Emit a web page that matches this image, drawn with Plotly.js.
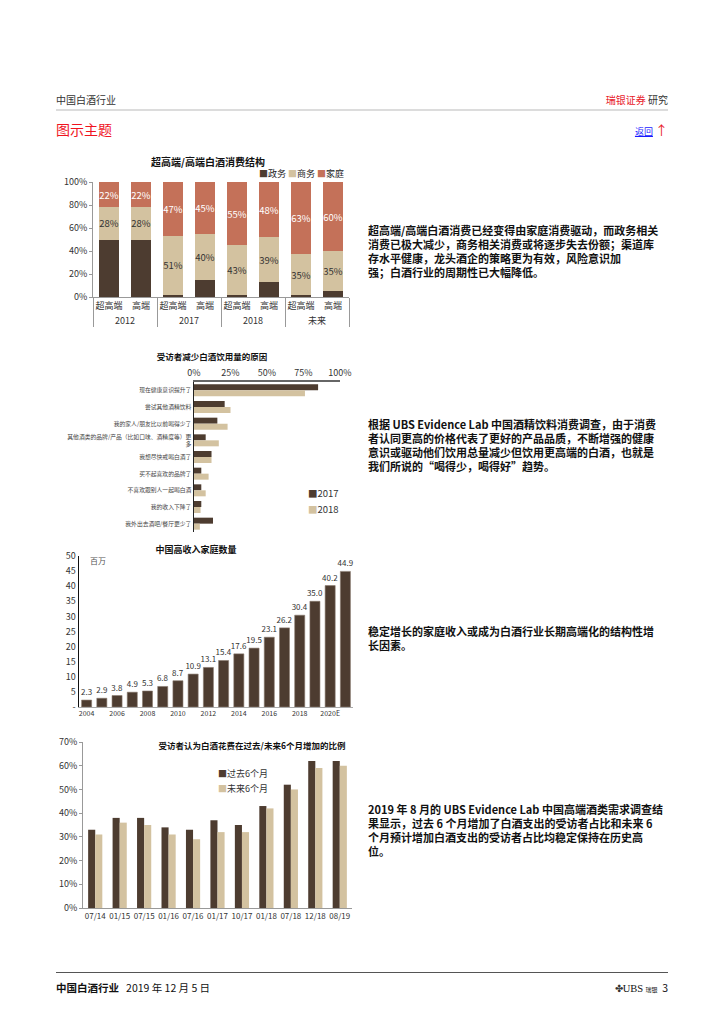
<!DOCTYPE html>
<html><head><meta charset="utf-8">
<script src="https://cdn.plot.ly/plotly-3.0.1.min.js"></script>
<style>
body{margin:0;width:724px;height:1024px;position:relative;background:#fff;font-family:"Noto Sans CJK SC","Noto Sans",sans-serif;overflow:hidden}
.abs{position:absolute;white-space:nowrap}
.chart{position:absolute}
.para{position:absolute;left:368px;font-size:11px;line-height:14px;font-weight:bold;color:#111;white-space:nowrap}
</style></head><body>

<div class="abs" style="left:56px;top:92px;font-size:10px;color:#333">中国白酒行业</div>
<div class="abs" style="right:56px;top:92px;font-size:10px;color:#333"><span style="color:#e8202a">瑞银证券</span> 研究</div>
<div class="abs" style="left:56px;top:109px;width:612px;height:2px;background:#dcdcdc"></div>
<div class="abs" style="left:56px;top:119px;font-size:14px;color:#f0141e">图示主题</div>
<div class="abs" style="right:56px;top:120px;font-size:9px"><span style="color:#1a1aff;text-decoration:underline">返回</span> <span style="color:#e8202a;font-size:13px">↑</span></div>

<div id="c1" class="chart" style="left:50px;top:150px;width:310px;height:195px"></div>
<div id="c2" class="chart" style="left:50px;top:345px;width:310px;height:195px"></div>
<div id="c3" class="chart" style="left:50px;top:540px;width:310px;height:195px"></div>
<div id="c4" class="chart" style="left:50px;top:735px;width:310px;height:200px"></div>

<div class="para" style="top:223px">超高端/高端白酒消费已经变得由家庭消费驱动，而政务相关<br>消费已极大减少，商务相关消费或将逐步失去份额；渠道库<br>存水平健康，龙头酒企的策略更为有效，风险意识加<br>强；白酒行业的周期性已大幅降低。</div>
<div class="para" style="top:417px">根据 UBS Evidence Lab 中国酒精饮料消费调查，由于消费<br>者认同更高的价格代表了更好的产品品质，不断增强的健康<br>意识或驱动他们饮用总量减少但饮用更高端的白酒，也就是<br>我们所说的“喝得少，喝得好”趋势。</div>
<div class="para" style="top:624px">稳定增长的家庭收入或成为白酒行业长期高端化的结构性增<br>长因素。</div>
<div class="para" style="top:802px">2019 年 8 月的 UBS Evidence Lab 中国高端酒类需求调查结<br>果显示，过去 6 个月增加了白酒支出的受访者占比和未来 6<br>个月预计增加白酒支出的受访者占比均稳定保持在历史高<br>位。</div>

<div class="abs" style="left:56px;top:972px;width:612px;height:1px;background:#555"></div>
<div class="abs" style="left:56px;top:980px;font-size:10.5px;color:#111"><b>中国白酒行业</b>&nbsp;&nbsp; 2019 年 12 月 5 日</div>
<div class="abs" style="right:56px;top:980px;font-size:10.5px;color:#111"><span style="font-size:10px;color:#333">✤</span><span style="font-family:'Liberation Serif',serif">UBS</span> <span style="font-size:6px">瑞银</span>&nbsp; 3</div>

<script>
// ---------- data ----------
const c1Groups = ['2012','2012','2017','2017','2018','2018','未来','未来'];
const c1Subs = ['超高端','高端','超高端','高端','超高端','高端','超高端','高端'];
const c1Gov = [50,50,2,15,2,13,2,5];
const c1Biz = [28,28,51,40,43,39,35,35];
const c1Home = [22,22,47,45,55,48,63,60];
const c1Names = ['政务','商务','家庭'];

const c2Reasons = ['现在健康意识提升了','尝试其他酒精饮料','我的家人/朋友比以前喝得少了','其他酒类的品牌/产品（比如口味、酒精度等）更<br>多','我想尽快戒喝白酒了','买不起喜欢的品牌了','不喜欢跟别人一起喝白酒','我的收入下降了','我外出去酒吧/餐厅更少了'];
const c2Y2017 = [85,21,16,8,12,5,5,5,13];
const c2Y2018 = [76,25,23,17,12,10,8,4.5,4];
const c2Names = ['2017','2018'];
const c2XTicks = [0,25,50,75,100];
const c2XTickText = ['0%','25%','50%','75%','100%'];

const c3Years = ['2004','2005','2006','2007','2008','2009','2010','2011','2012','2013','2014','2015','2016','2017','2018','2019','2020E','2021E'];
const c3Values = [2.3,2.9,3.8,4.9,5.3,6.8,8.7,10.9,13.1,15.4,17.6,19.5,23.1,26.2,30.4,35.0,40.2,44.9];
const c3TickLabels = ['2004','2006','2008','2010','2012','2014','2016','2018','2020E'];
const c3YTicks = [0,5,10,15,20,25,30,35,40,45,50];
const c3YTickText = ['-','5','10','15','20','25','30','35','40','45','50'];

const c4Dates = ['07/14','01/15','07/15','01/16','07/16','01/17','10/17','01/18','07/18','12/18','08/19'];
const c4Past = [33,38,38,34,33,37,35,43,52,62,62];
const c4Next = [31,36,35,31,29,32,32,42,50,59,60];
const c4Names = ['过去6个月','未来6个月'];

// ---------- style ----------
const F = 'Noto Sans CJK SC, Noto Sans, sans-serif';
const DARK = '#4d3c30', TAN = '#d3c2a0', TERRA = '#c47159';
const cfg = {staticPlot:true, displayModeBar:false};

function box(rect, plot){
  return {l:plot.x0-rect.left, r:rect.left+rect.w-plot.x1, t:plot.y0-rect.top, b:rect.top+rect.h-plot.y1, pad:0};
}
function ann(text, px, py, rect, plot, o){
  return Object.assign({xref:'paper', yref:'paper', showarrow:false,
    x:(px-plot.x0)/(plot.x1-plot.x0), y:1-(py-plot.y0)/(plot.y1-plot.y0),
    text:text, font:{family:F, size:9, color:'#222'}, xanchor:'left', yanchor:'middle'}, o||{});
}
function title(text, px, py, rect, size){
  return {text:text, font:{family:F, size:size, color:'#111'}, xref:'container', yref:'container',
    x:(px-rect.left)/rect.w, y:1-(py-rect.top)/rect.h, xanchor:'center', yanchor:'middle'};
}
function sq(c){ return '<span style="color:'+c+'">■</span>'; }
function pct(arr){ return arr.map(v => v + '%'); }

// ---------- chart 1 ----------
(function(){
  const rect={left:50, top:150, w:310, h:195};
  const plot={x0:93, x1:349, y0:182, y1:297};
  const x=[c1Groups, c1Subs];
  const traces=[
    {type:'bar', x:x, y:c1Gov, name:c1Names[0], marker:{color:DARK}, textinfo:'none', hoverinfo:'skip'},
    {type:'bar', x:x, y:c1Biz, name:c1Names[1], marker:{color:TAN}, text:pct(c1Biz), texttemplate:'%{text}', textposition:'inside', textangle:0,
      insidetextanchor:'middle', constraintext:'none', textfont:{family:F, size:9.5, color:'#333'}},
    {type:'bar', x:x, y:c1Home, name:c1Names[2], marker:{color:TERRA}, text:pct(c1Home), texttemplate:'%{text}', textposition:'inside', textangle:0,
      insidetextanchor:'middle', constraintext:'none', textfont:{family:F, size:9.5, color:'#fff'}}
  ];
  const layout={width:rect.w, height:rect.h, margin:box(rect,plot), barmode:'stack', bargap:0.36, showlegend:false,
    paper_bgcolor:'rgba(0,0,0,0)', plot_bgcolor:'rgba(0,0,0,0)', font:{family:F, size:9, color:'#333'},
    title:title('<b>超高端/高端白酒消费结构</b>', 208, 162, rect, 10),
    xaxis:{type:'multicategory', tickangle:0, showline:true, linecolor:'#999', linewidth:1, showdividers:true, dividercolor:'#999', dividerwidth:1,
      ticks:'', tickfont:{family:F, size:9, color:'#333'}, showgrid:false},
    yaxis:{range:[0,100], dtick:20, ticksuffix:'%', showline:true, linecolor:'#999', linewidth:1, showgrid:false, zeroline:false,
      ticks:'outside', ticklen:3, tickcolor:'#999', tickfont:{family:F, size:9, color:'#333'}},
    annotations:[ann(sq(DARK)+c1Names[0]+' '+sq(TAN)+c1Names[1]+' '+sq(TERRA)+c1Names[2], 346, 173, rect, plot, {xanchor:'right'})]
  };
  Plotly.newPlot('c1', traces, layout, cfg);
})();

// ---------- chart 2 ----------
(function(){
  const rect={left:50, top:345, w:310, h:195};
  const plot={x0:194, x1:340, y0:382, y1:532};
  const traces=[
    {type:'bar', orientation:'h', y:c2Reasons, x:c2Y2017, name:c2Names[0], marker:{color:DARK}},
    {type:'bar', orientation:'h', y:c2Reasons, x:c2Y2018, name:c2Names[1], marker:{color:TAN}}
  ];
  const layout={width:rect.w, height:rect.h, margin:box(rect,plot), barmode:'group', bargap:0.28, bargroupgap:0, showlegend:false,
    paper_bgcolor:'rgba(0,0,0,0)', plot_bgcolor:'rgba(0,0,0,0)', font:{family:F, size:9, color:'#333'},
    title:title('<b>受访者减少白酒饮用量的原因</b>', 212, 357, rect, 8.5),
    xaxis:{side:'top', range:[0,100], tickvals:c2XTicks, ticktext:c2XTickText, showline:true, linecolor:'#666', linewidth:2,
      showgrid:false, zeroline:false, ticks:'', tickfont:{family:F, size:9, color:'#333'}},
    yaxis:{type:'category', autorange:'reversed', showline:true, linecolor:'#222', linewidth:1.5, showgrid:false, ticks:'',
      tickfont:{family:F, size:5.8, color:'#444'}},
    annotations:[
      ann(sq(DARK)+c2Names[0], 306, 493, rect, plot, {font:{family:F, size:9.5, color:'#333'}}),
      ann(sq(TAN)+c2Names[1], 306, 509, rect, plot, {font:{family:F, size:9.5, color:'#333'}})
    ]
  };
  Plotly.newPlot('c2', traces, layout, cfg);
})();

// ---------- chart 3 ----------
(function(){
  const rect={left:50, top:540, w:310, h:195};
  const plot={x0:79, x1:353, y0:556, y1:707};
  const traces=[
    {type:'bar', x:c3Years, y:c3Values, marker:{color:DARK, line:{color:'#8a7a6e', width:0.6}},
      texttemplate:'%{y:.1f}', textposition:'outside', textangle:0, constraintext:'none', cliponaxis:false,
      textfont:{family:F, size:8, color:'#333'}}
  ];
  const layout={width:rect.w, height:rect.h, margin:box(rect,plot), bargap:0.34, showlegend:false,
    paper_bgcolor:'rgba(0,0,0,0)', plot_bgcolor:'rgba(0,0,0,0)', font:{family:F, size:9, color:'#333'},
    title:title('<b>中国高收入家庭数量</b>', 196, 550, rect, 9),
    xaxis:{type:'category', tickvals:c3TickLabels, tickangle:0, showline:true, linecolor:'#aaa', linewidth:1, ticks:'', showgrid:false,
      tickfont:{family:F, size:7, color:'#333'}},
    yaxis:{range:[0,50], tickvals:c3YTicks, ticktext:c3YTickText, showline:true, linecolor:'#111', linewidth:1.5, showgrid:false,
      zeroline:false, ticks:'', tickfont:{family:F, size:9, color:'#333'}},
    annotations:[ann('百万', 88, 560, rect, plot, {font:{family:F, size:8, color:'#555'}})]
  };
  Plotly.newPlot('c3', traces, layout, cfg);
})();

// ---------- chart 4 ----------
(function(){
  const rect={left:50, top:735, w:310, h:200};
  const plot={x0:83, x1:352, y0:742, y1:908};
  const traces=[
    {type:'bar', x:c4Dates, y:c4Past, name:c4Names[0], marker:{color:DARK}},
    {type:'bar', x:c4Dates, y:c4Next, name:c4Names[1], marker:{color:TAN}}
  ];
  const layout={width:rect.w, height:rect.h, margin:box(rect,plot), barmode:'group', bargap:0.42, bargroupgap:0, showlegend:false,
    paper_bgcolor:'rgba(0,0,0,0)', plot_bgcolor:'rgba(0,0,0,0)', font:{family:F, size:9, color:'#333'},
    title:title('<b>受访者认为白酒花费在过去/未来6个月增加的比例</b>', 252, 746, rect, 8.5),
    xaxis:{type:'category', tickangle:0, showline:true, linecolor:'#999', linewidth:1, ticks:'', showgrid:false,
      tickfont:{family:F, size:8, color:'#333'}},
    yaxis:{range:[0,70], dtick:10, ticksuffix:'%', showline:true, linecolor:'#999', linewidth:1, showgrid:false, zeroline:false,
      ticks:'outside', ticklen:3, tickcolor:'#999', tickfont:{family:F, size:9, color:'#333'}},
    annotations:[
      ann(sq(DARK)+c4Names[0], 216, 774, rect, plot, {font:{family:F, size:9, color:'#333'}}),
      ann(sq(TAN)+c4Names[1], 216, 789, rect, plot, {font:{family:F, size:9, color:'#333'}})
    ]
  };
  Plotly.newPlot('c4', traces, layout, cfg);
})();
</script>
</body></html>
